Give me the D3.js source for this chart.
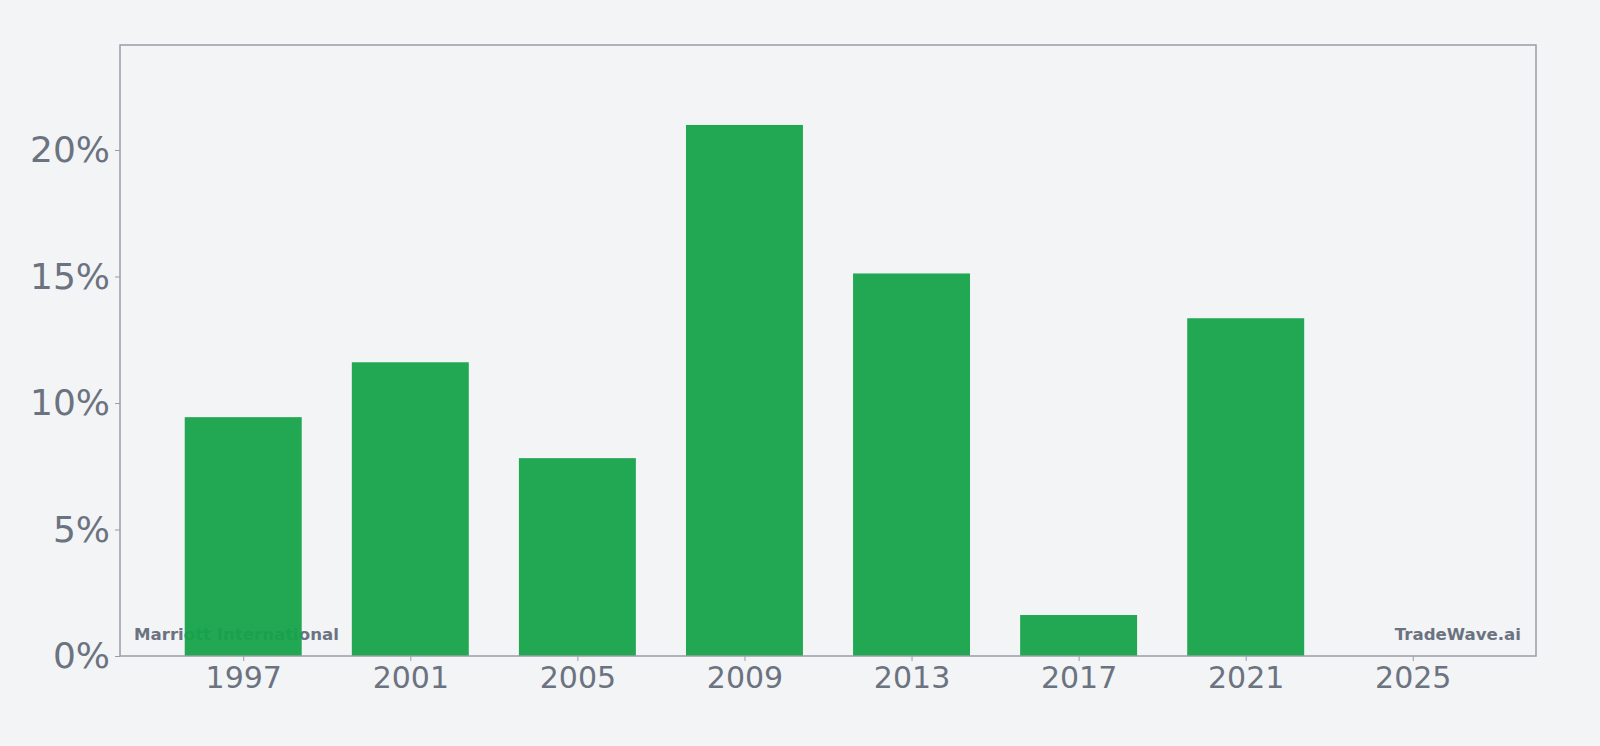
<!DOCTYPE html>
<html><head><meta charset="utf-8">
<script src="https://cdn.jsdelivr.net/npm/d3@7"></script>
<style>
html,body{margin:0;padding:0;background:#f3f4f6;}
svg{display:block;font-family:"DejaVu Sans",sans-serif;}
</style></head>
<body><svg id="chart" width="1600" height="746"></svg>
<script>
const years = [1997, 2001, 2005, 2009, 2013, 2017, 2021, 2025];
const growth = [9.44, 11.61, 7.82, 20.99, 15.12, 1.62, 13.35, 0];
const yTicks = [0, 5, 10, 15, 20];
const xTicks = [1997, 2001, 2005, 2009, 2013, 2017, 2021, 2025];
const company = "Marriott International";
const brand = "TradeWave.ai";

const W = 1600, H = 746;
const m = {left: 120, right: 64, top: 45, bottom: 90};
const svg = d3.select("#chart");
svg.append("rect").attr("width", W).attr("height", H).attr("fill", "#f3f4f6");

const x = d3.scaleLinear().domain([1994.05, 2027.95]).range([m.left, W - m.right]);
const y = d3.scaleLinear().domain([0, 24.15]).range([H - m.bottom, m.top]);
const barHalf = 1.4;

// watermark texts (behind bars)
svg.append("text").attr("x", m.left + 14).attr("y", H - m.bottom - 16)
  .attr("font-size", 16.6).attr("font-weight", "bold").attr("fill", "#6b7280").text(company);
svg.append("text").attr("x", W - m.right - 15).attr("y", H - m.bottom - 16)
  .attr("text-anchor", "end")
  .attr("font-size", 16.6).attr("font-weight", "bold").attr("fill", "#6b7280").text(brand);

svg.append("g").selectAll("rect").data(years.map((yr, i) => ({yr, v: growth[i]})))
  .join("rect")
  .attr("x", d => x(d.yr - barHalf))
  .attr("width", d => x(d.yr + barHalf) - x(d.yr - barHalf))
  .attr("y", d => y(d.v))
  .attr("height", d => y(0) - y(d.v))
  .attr("fill", "#16a34a").attr("fill-opacity", 0.95);

// frame
svg.append("rect").attr("x", m.left).attr("y", m.top)
  .attr("width", W - m.right - m.left).attr("height", H - m.bottom - m.top)
  .attr("fill", "none").attr("stroke", "#9a9ca8").attr("stroke-width", 1.5);

const xAxis = svg.append("g").attr("transform", `translate(0,${H - m.bottom})`)
  .call(d3.axisBottom(x).tickValues(xTicks).tickFormat(d3.format("d")).tickSize(5).tickPadding(6));
xAxis.select(".domain").remove();
xAxis.selectAll("line").attr("stroke", "#9a9ca8");
xAxis.selectAll("text").attr("font-size", 30).attr("fill", "#6b7280").attr("font-family", "DejaVu Sans");

const yAxis = svg.append("g").attr("transform", `translate(${m.left},0)`)
  .call(d3.axisLeft(y).tickValues(yTicks).tickFormat(d => d + "%").tickSize(5).tickPadding(5));
yAxis.select(".domain").remove();
yAxis.selectAll("line").attr("stroke", "#9a9ca8");
yAxis.selectAll("text").attr("font-size", 36).attr("fill", "#6b7280").attr("font-family", "DejaVu Sans");
</script></body></html>
